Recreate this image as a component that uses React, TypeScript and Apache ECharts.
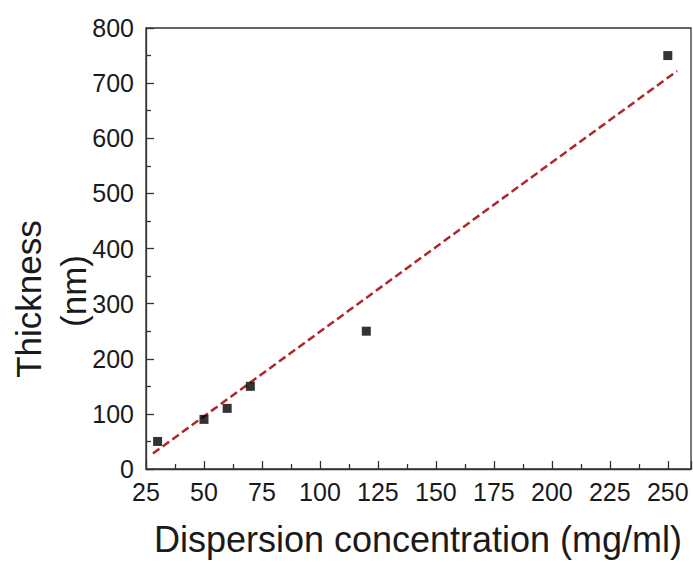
import React, { useEffect, useRef } from "react";
import * as echarts from "echarts";

const concentration = [30, 50, 60, 70, 120, 250];
const thickness = [50, 90, 110, 150, 250, 750];
const fitX = [28, 254];
const fitY = [28, 722];
const xTitle = "Dispersion concentration (mg/ml)";
const yTitleLines = ["Thickness", "(nm)"];

export default function App() {
  const ref = useRef<HTMLDivElement>(null);
  useEffect(() => {
    if (!ref.current) return;
    const chart = echarts.init(ref.current, null, { renderer: "svg" });
    const font = "Liberation Sans, Arial, sans-serif";
    const axisColor = "#333";
    chart.setOption({
      animation: false,
      backgroundColor: "#fff",
      grid: { left: 146, right: 2, top: 28, bottom: 94, show: true, borderColor: axisColor, borderWidth: 1.3 },
      xAxis: {
        type: "value",
        min: 25,
        max: 260,
        interval: 25,
        axisLine: { lineStyle: { color: axisColor, width: 1.3 } },
        axisTick: { inside: true, length: 8, lineStyle: { color: axisColor, width: 1.3 } },
        minorTick: { show: true, splitNumber: 2, length: 5, lineStyle: { color: axisColor, width: 1.3 } },
        splitLine: { show: false },
        axisLabel: {
          showMaxLabel: false,
          margin: 10,
          color: "#1a1a1a",
          fontSize: 25,
          fontFamily: font,
        },
      },
      yAxis: {
        type: "value",
        min: 0,
        max: 800,
        interval: 100,
        axisLine: { show: true, lineStyle: { color: axisColor, width: 1.3 } },
        axisTick: { show: true, inside: true, length: 8, lineStyle: { color: axisColor, width: 1.3 } },
        minorTick: { show: true, splitNumber: 2, length: 5, lineStyle: { color: axisColor, width: 1.3 } },
        splitLine: { show: false },
        axisLabel: { margin: 12, color: "#1a1a1a", fontSize: 25, fontFamily: font },
      },
      graphic: [
        {
          type: "text",
          x: 418,
          y: 539,
          style: {
            text: xTitle,
            fontSize: 36,
            fontFamily: font,
            fill: "#1a1a1a",
            textAlign: "center",
            textVerticalAlign: "middle",
          },
        },
        {
          type: "text",
          x: 28,
          y: 299,
          rotation: Math.PI / 2,
          style: {
            text: yTitleLines[0],
            fontSize: 35,
            fontFamily: font,
            fill: "#1a1a1a",
            textAlign: "center",
            textVerticalAlign: "middle",
          },
        },
        {
          type: "text",
          x: 73,
          y: 291,
          rotation: Math.PI / 2,
          style: {
            text: yTitleLines[1],
            fontSize: 35,
            fontFamily: font,
            fill: "#1a1a1a",
            textAlign: "center",
            textVerticalAlign: "middle",
          },
        },
      ],
      series: [
        {
          type: "line",
          data: fitX.map((x, i) => [x, fitY[i]]),
          showSymbol: false,
          symbol: "none",
          lineStyle: { color: "#b0262a", width: 2.5, type: [8, 4] },
          z: 2,
        },
        {
          type: "scatter",
          data: concentration.map((x, i) => [x, thickness[i]]),
          symbol: "rect",
          symbolSize: 9,
          itemStyle: { color: "#000" },
          z: 3,
        },
      ],
    });
    return () => chart.dispose();
  }, []);
  return <div ref={ref} style={{ width: 693, height: 563, position: "absolute", left: 0, top: 0 }} />;
}
